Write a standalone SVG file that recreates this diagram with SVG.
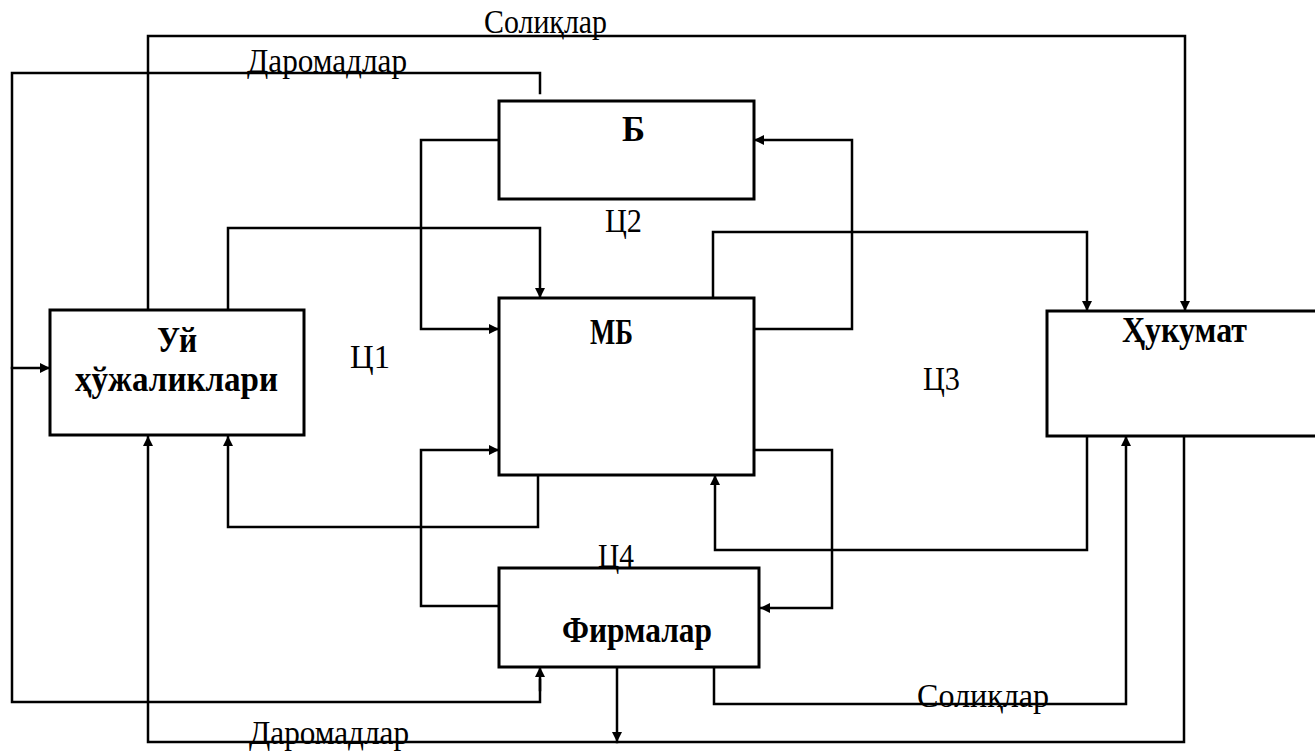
<svg xmlns="http://www.w3.org/2000/svg" width="1315" height="751" viewBox="0 0 1315 751">
  <style>
    .box { fill: #ffffff; stroke: #000000; stroke-width: 3; }
    .wire { fill: none; stroke: #000000; stroke-width: 2.5; stroke-linejoin: miter; stroke-linecap: square; }
    .arr { marker-end: url(#head); }
    .lbl { font-family: "Liberation Serif", "Times New Roman", serif; font-size: 33px; fill: #000000; }
    .ttl { font-family: "Liberation Serif", "Times New Roman", serif; font-size: 36px; font-weight: bold; fill: #000000; }
  </style>
  <defs>
    <marker id="head" viewBox="0 0 10 10" refX="10" refY="5" markerWidth="12" markerHeight="10" markerUnits="userSpaceOnUse" orient="auto">
      <path d="M0,0 L10,5 L0,10 Z" fill="#000000"/>
    </marker>
  </defs>

  <rect width="1315" height="751" fill="#ffffff"/>

  <!-- flows between the sectors -->
  <g id="connectors">
    <!-- taxes from households to government -->
    <path class="wire arr" d="M148,310 V36 H1185 V311"/>
    <!-- incomes from the bank to households and firms -->
    <path class="wire" d="M540,93 V73 H12 V702 H540 V680"/>
    <path class="wire arr" d="M540,690 V667"/>
    <path class="wire arr" d="M12,368 H50"/>
    <!-- incomes from government -->
    <path class="wire arr" d="M1184,436 V742 H148 V436"/>
    <path class="wire arr" d="M617,667 V742"/>
    <!-- taxes from firms -->
    <path class="wire arr" d="M714,667 V704 H1126 V436"/>
    <!-- market links -->
    <path class="wire arr" d="M228,310 V228 H540 V298"/>
    <path class="wire arr" d="M499,140 H421 V329 H499"/>
    <path class="wire arr" d="M754,329 H852 V140 H754"/>
    <path class="wire arr" d="M713,298 V232 H1087 V311"/>
    <path class="wire arr" d="M1087,429 V550 H715 V475"/>
    <path class="wire arr" d="M538,468 V527 H228 V436"/>
    <path class="wire arr" d="M499,606 H421 V450 H499"/>
    <path class="wire arr" d="M754,450 H832 V608 H760"/>
  </g>

  <g id="node-households">
    <rect class="box" x="50" y="310" width="254" height="125"/>
    <text class="ttl" x="157" y="352" textLength="40" lengthAdjust="spacingAndGlyphs">Уй</text>
    <text class="ttl" x="75" y="391" textLength="203" lengthAdjust="spacingAndGlyphs">ҳўжаликлари</text>
  </g>

  <g id="node-bank">
    <rect class="box" x="499" y="101" width="255" height="98"/>
    <text class="ttl" x="622" y="141" textLength="23" lengthAdjust="spacingAndGlyphs">Б</text>
  </g>

  <g id="node-market">
    <rect class="box" x="499" y="298" width="255" height="177"/>
    <text class="ttl" x="590" y="344" textLength="43" lengthAdjust="spacingAndGlyphs">МБ</text>
  </g>

  <g id="node-government">
    <rect class="box" x="1047" y="311" width="290" height="125"/>
    <text class="ttl" x="1122" y="342" textLength="125" lengthAdjust="spacingAndGlyphs">Ҳукумат</text>
  </g>

  <g id="node-firms">
    <rect class="box" x="499" y="568" width="260" height="99"/>
    <text class="ttl" x="562" y="642" textLength="150" lengthAdjust="spacingAndGlyphs">Фирмалар</text>
  </g>

  <g id="labels">
    <text class="lbl" x="484" y="33" textLength="123" lengthAdjust="spacingAndGlyphs">Солиқлар</text>
    <text class="lbl" x="247" y="72" textLength="160" lengthAdjust="spacingAndGlyphs">Даромадлар</text>
    <text class="lbl" x="249" y="744" textLength="160" lengthAdjust="spacingAndGlyphs">Даромадлар</text>
    <text class="lbl" x="917" y="707" textLength="132" lengthAdjust="spacingAndGlyphs">Солиқлар</text>
    <text class="lbl" x="350" y="368" textLength="40" lengthAdjust="spacingAndGlyphs">Ц1</text>
    <text class="lbl" x="605" y="232" textLength="37" lengthAdjust="spacingAndGlyphs">Ц2</text>
    <text class="lbl" x="923" y="390" textLength="37" lengthAdjust="spacingAndGlyphs">Ц3</text>
    <text class="lbl" x="598" y="567" textLength="36" lengthAdjust="spacingAndGlyphs">Ц4</text>
  </g>
</svg>
